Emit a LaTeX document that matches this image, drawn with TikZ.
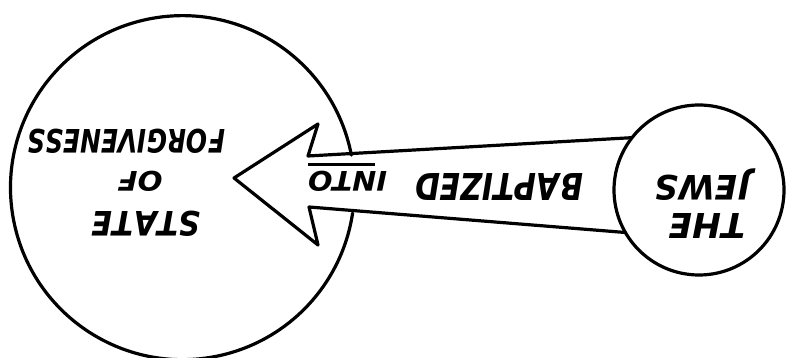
\documentclass[tikz,border=0pt]{standalone}
\usepackage{graphicx}
\usepackage{fontspec}
\newfontfamily\handfont{DejaVu Sans}[BoldItalicFont={DejaVu Sans Bold Oblique},Kerning=Off]
\newcommand{\fitbox}[3]{\resizebox{#1pt}{#2pt}{\handfont\bfseries\itshape #3}}
\begin{document}
\begin{tikzpicture}[x=1pt,y=1pt,
  ink/.style={line width=3.2pt, line join=round, line cap=round},
  lbl/.style={inner sep=0pt, outer sep=0pt, rotate=180}]
\useasboundingbox (0,0) rectangle (786,358);
% nodes
\node[circle, minimum size=344pt, inner sep=0pt, outer sep=0pt] (big) at (182,173) {};
\node[circle, draw, ink, minimum size=170pt, inner sep=0pt, outer sep=0pt] (small) at (699,168) {};
% big circle with gap for the arrow shaft
\draw[ink] (big.10.9) arc[start angle=10.9, end angle=351.5, radius=172pt];
% arrow
\coordinate (ts) at (308,202);
\coordinate (tb) at (318,234);
\coordinate (tip) at (234,180);
\coordinate (bb) at (318,113);
\coordinate (bs) at (309,151);
\draw[ink] (small.142) -- (ts) -- (tb) -- (tip) -- (bb) -- (bs) -- (small.210);
% labels (upside down)
\node[lbl] (forg) at (126,217) {\fitbox{198}{24}{FORGIVENESS}};
\node[lbl] (of) at (140,177) {\fitbox{45}{20}{OF}};
\node[lbl] (state) at (146,134.5) {\fitbox{108}{25}{STATE}};
\node[lbl] (bapt) at (499,170.5) {\fitbox{168}{27}{BAPTIZED}};
\node[lbl] (into) at (347.5,177) {\fitbox{79}{20}{INTO}};
\draw[line width=3pt] ([shift={(-39.5,16)}]into.center) -- ([shift={(27.5,16)}]into.center);
\node[lbl] (jews) at (702.5,173) {\fitbox{95}{25}{JEWS}};
\node[lbl] (the) at (707,131.5) {\fitbox{76}{25}{THE}};
\end{tikzpicture}
\end{document}
